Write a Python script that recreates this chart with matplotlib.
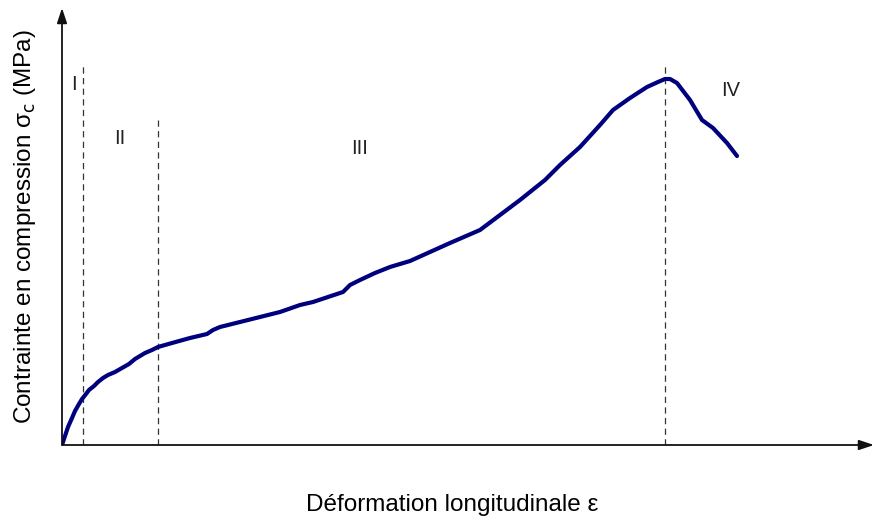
import matplotlib
matplotlib.use("Agg")
import matplotlib.pyplot as plt

# Compression stress-strain curve (arbitrary units)
strain = [0, 3, 6, 10, 13, 17, 20, 24, 27, 32, 36, 41, 46, 53, 60, 67, 73, 78,
          83, 90, 96, 110, 128, 145, 151, 158, 178, 218, 238, 251, 281, 288,
          298, 313, 328, 348, 368, 388, 418, 458, 483, 498, 518, 538, 551, 568,
          585, 596, 603, 608, 615, 628, 640, 651, 665, 675]
stress = [0, 9, 18, 27, 34, 41, 46, 51, 55, 59, 63, 67, 70, 73, 77, 81, 86, 89,
          92, 95, 98, 102, 107, 111, 115, 118, 123, 133, 140, 143, 153, 160,
          165, 172, 178, 184, 193, 202, 215, 245, 265, 280, 298, 320, 335, 347,
          358, 363, 366, 366, 362, 345, 325, 317, 302, 289]

# Phase boundaries and labels
bounds = [21, 96, 603]
bound_tops = [380, 325, 380]
phase_labels = ["I", "II", "III", "IV"]
phase_pos = [(12, 360), (58, 307), (298, 297), (669, 355)]

fig = plt.figure(figsize=(8.72, 5.21), dpi=100)
ax = fig.add_axes([62 / 872, 76 / 521, 810 / 872, 437 / 521])
ax.set_xlim(0, 810)
ax.set_ylim(0, 437)
ax.axis("off")

ax.plot(strain, stress, color="#00007f", lw=3.0, solid_capstyle="round",
        solid_joinstyle="round", zorder=3)

for b, t in zip(bounds, bound_tops):
    ax.plot([b, b], [0, t], color="#333333", lw=0.9, ls=(0, (5, 3.5)), zorder=2)

for lab, (x, y) in zip(phase_labels, phase_pos):
    ax.text(x, y, lab, fontsize=14.5, ha="center", va="center", color="#222222",
            family="Liberation Sans")

# Axes drawn as arrows
arrow = dict(arrowstyle="-|>,head_length=0.9,head_width=0.3", color="#111111", lw=1.3,
             shrinkA=0, shrinkB=0)
ax.annotate("", xy=(0, 437), xytext=(0, 0), arrowprops=arrow, annotation_clip=False)
ax.annotate("", xy=(812, 0), xytext=(0, 0), arrowprops=arrow, annotation_clip=False)

fig.text(452 / 872, 1 - 505 / 521, "Déformation longitudinale ε", fontsize=17.5,
         ha="center", va="center", family="Liberation Sans")
fig.text(25 / 872, 1 - 227 / 521, "Contrainte en compression σ$_\\mathrm{c}$ (MPa)",
         fontsize=17.5, ha="center", va="center", rotation=90, family="Liberation Sans")

fig.savefig("out.png", dpi=100)
